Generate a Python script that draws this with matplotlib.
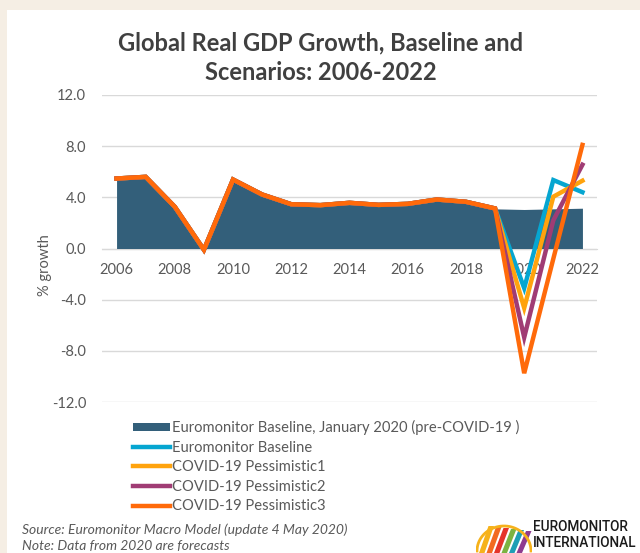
import matplotlib
matplotlib.use("Agg")
import matplotlib.pyplot as plt
import numpy as np
from matplotlib.patches import Patch, Polygon, Rectangle
from matplotlib.lines import Line2D

plt.rcParams['font.family'] = ['Lato', 'DejaVu Sans']

# Global real GDP growth, % (2020 onwards are forecasts)
years = np.arange(2006, 2023)
pre_covid = [5.4, 5.5, 3.2, -0.1, 5.35, 4.2, 3.45, 3.4, 3.55, 3.4, 3.45, 3.8, 3.6, 3.1, 3.05, 3.1, 3.15]
history = [5.47, 5.6, 3.26, -0.1, 5.39, 4.22, 3.46, 3.39, 3.57, 3.41, 3.49, 3.83, 3.65, 3.13]
baseline = history + [-3.1, 5.35, 4.4]
pess1 = history + [-4.65, 4.05, 5.3]
pess2 = history + [-6.95, 2.2, 6.55]
pess3 = history + [-9.75, -0.8, 8.1]

series_names = ['Euromonitor Baseline', 'COVID-19 Pessimistic1',
                'COVID-19 Pessimistic2', 'COVID-19 Pessimistic3']
series_colors = ['#06a6d1', '#ffa30d', '#a03c74', '#ff6a0a']
area_name = 'Euromonitor Baseline, January 2020 (pre-COVID-19 )'
area_color = '#335f7a'

grey = '#595959'
grid_col = '#d9d9d9'

fig = plt.figure(figsize=(6.4, 5.53), dpi=100)
fig.patch.set_facecolor('#f5eee4')
# white card
fig.add_artist(Rectangle((7 / 640, 0), 1, 1 - 10 / 553, transform=fig.transFigure,
                         facecolor='white', edgecolor='none', zorder=0))

ax = fig.add_axes([102 / 640, 1 - 402 / 553, 495 / 640, 307 / 553])
ax.set_facecolor('none')

ax.fill_between(years, 0, pre_covid, color=area_color, lw=0, zorder=2)
for vals, col in zip([baseline, pess1, pess2, pess3], series_colors):
    ax.plot(years, vals, color=col, lw=3.2, solid_joinstyle='miter', zorder=4)

ax.set_xlim(2005.5, 2022.5)
ax.set_ylim(-12, 12)
ax.set_yticks(np.arange(-12, 13, 4))
ax.set_yticklabels(['%.1f' % v for v in np.arange(-12, 13, 4)])
ax.set_xticks(np.arange(2006, 2023, 2))
ax.yaxis.grid(True, color=grid_col, lw=1)
ax.set_axisbelow(True)
for s in ['top', 'right', 'left']:
    ax.spines[s].set_visible(False)
ax.spines['bottom'].set_position(('data', 0))
ax.spines['bottom'].set_color(grid_col)
ax.spines['bottom'].set_zorder(1)
ax.tick_params(axis='both', length=0, colors=grey, labelsize=10.5)
ax.tick_params(axis='x', pad=10.5)
ax.tick_params(axis='y', pad=11.5)

fig.text(45 / 640, 1 - 265 / 553, '% growth', rotation=90, ha='center', va='center',
         color=grey, fontsize=10.5)

fig.text(321 / 640, 1 - 58 / 553, 'Global Real GDP Growth, Baseline and\nScenarios: 2006-2022',
         ha='center', va='center', fontsize=17, fontweight='bold', color='#404040',
         linespacing=1.35)

handles = [Patch(facecolor=area_color, edgecolor='none')]
handles += [Line2D([], [], color=c, lw=3.2) for c in series_colors]
fig.legend(handles, [area_name] + series_names, loc='upper left',
           bbox_to_anchor=(127 / 640, 1 - 414 / 553), frameon=False,
           fontsize=10.6, handlelength=2.5, handleheight=0.5, handletextpad=0.15,
           labelspacing=0.38, borderaxespad=0, labelcolor=grey)

fig.text(22 / 640, 1 - 530 / 553, 'Source: Euromonitor Macro Model (update 4 May 2020)',
         fontsize=10, style='italic', color=grey, va='center')
fig.text(22 / 640, 1 - 546 / 553, 'Note: Data from 2020 are forecasts',
         fontsize=10, style='italic', color=grey, va='center')

# logo: slanted coloured stripes under an arch, then the wordmark
logo = fig.add_axes([476 / 640, 0, 56 / 640, 34 / 553])
logo.set_xlim(0, 56)
logo.set_ylim(0, 34)
logo.axis('off')
stripe_cols = ['#f6b21b', '#f26a21', '#e5342b', '#7cb342', '#1d9fb5', '#8e3b8f']
for i, c in enumerate(stripe_cols):
    x0 = 3 + i * 7.5
    logo.add_patch(Polygon([(x0, 0), (x0 + 5.5, 0), (x0 + 15, 27 - i), (x0 + 9.5, 27 - i)],
                           closed=True, facecolor=c, edgecolor='none'))
t = np.linspace(0, np.pi, 40)
logo.plot(28 + 27 * np.cos(t), 2 + 25 * np.sin(t), color='#f6b21b', lw=2)
fig.text(533 / 640, 1 - 527 / 553, 'EUROMONITOR', fontsize=9.8, family='Roboto',
         fontweight='medium', color='#1a1a1a', va='center')
fig.text(533 / 640, 1 - 543 / 553, 'INTERNATIONAL', fontsize=9.8, family='Roboto',
         fontweight='medium', color='#1a1a1a', va='center')

fig.savefig('out.png', dpi=100, facecolor=fig.get_facecolor())
